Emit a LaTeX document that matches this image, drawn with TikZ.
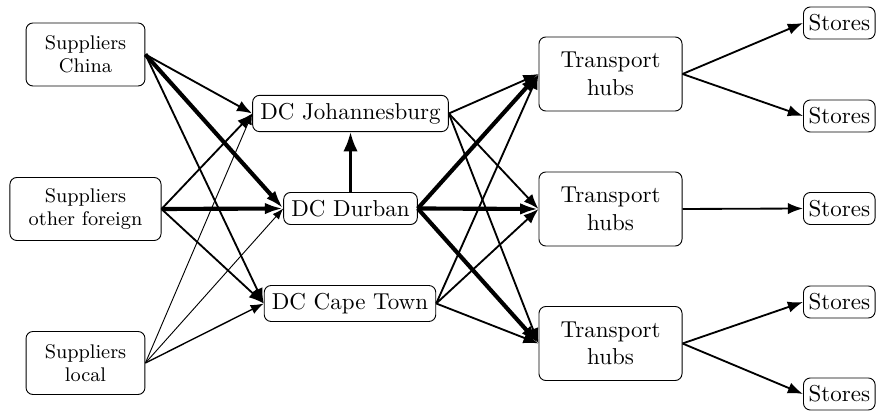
\documentclass[tikz,border=0pt]{standalone}
\usetikzlibrary{arrows.meta}
\begin{document}
\begin{tikzpicture}[x=0.4348pt,y=-0.4348pt,
  box/.style={draw, rounded corners=3pt, align=center, inner sep=0pt},
  supplier/.style={box, font=\fontsize{8.6}{10}\selectfont, minimum height=27.4pt},
  dc/.style={draw, rounded corners=3pt},
  hub/.style={box, minimum width=62.2pt, minimum height=32.2pt},
  store/.style={draw, rounded corners=3pt, inner xsep=2.2pt, anchor=west},
  flow/.style={thick, -{Latex}},
  thinflow/.style={semithick, -{Latex}},
  lightflow/.style={thin, -{Latex}},
  heavyflow/.style={line width=1.8pt, -{Latex[length=8pt,width=5pt]}}]
\useasboundingbox (0,0) rectangle (877,411);

% suppliers
\node[supplier, minimum width=51.7pt] (china) at (85.5,54.5) {Suppliers\\China};
\node[supplier, minimum width=65.7pt] (foreign) at (85.5,209) {Suppliers\\other foreign};
\node[supplier, minimum width=51.7pt] (local) at (85.5,363) {Suppliers\\local};

% distribution centres
\node[dc] (jhb) at (350.5,113.5) {DC Johannesburg};
\node[dc] (dbn) at (350.5,208.5) {DC Durban};
\node[dc] (cpt) at (350,303.5) {DC Cape Town};

% transport hubs
\node[hub] (h1) at (610.5,74) {Transport\\hubs};
\node[hub] (h2) at (610.5,209) {Transport\\hubs};
\node[hub] (h3) at (610.5,343.5) {Transport\\hubs};

% stores
\node[store] (s1) at (803,23) {Stores};
\node[store] (s2) at (803,116) {Stores};
\node[store] (s3) at (803,208.5) {Stores};
\node[store] (s4) at (803,302) {Stores};
\node[store] (s5) at (803,394) {Stores};

% suppliers to DCs
\draw[flow] (china.east) -- (jhb.west);
\draw[heavyflow] (china.east) -- (dbn.west);
\draw[flow] (china.east) -- (cpt.west);
\draw[flow] (foreign.east) -- (jhb.west);
\draw[heavyflow] (foreign.east) -- (dbn.west);
\draw[flow] (foreign.east) -- (cpt.west);
\draw[lightflow] (local.east) -- (jhb.west);
\draw[lightflow] (local.east) -- (dbn.west);
\draw[thinflow] (local.east) -- (cpt.west);

% Durban feeds Johannesburg
\draw[very thick, -{Latex}] (dbn.north) -- (jhb.south);

% DCs to transport hubs
\draw[flow] (jhb.east) -- (h1.west);
\draw[flow] (jhb.east) -- (h2.west);
\draw[flow] (jhb.east) -- (h3.west);
\draw[heavyflow] (dbn.east) -- (h1.west);
\draw[heavyflow] (dbn.east) -- (h2.west);
\draw[heavyflow] (dbn.east) -- (h3.west);
\draw[flow] (cpt.east) -- (h1.west);
\draw[flow] (cpt.east) -- (h2.west);
\draw[flow] (cpt.east) -- (h3.west);

% hubs to stores
\draw[flow] (h1.east) -- (s1.west);
\draw[flow] (h1.east) -- (s2.west);
\draw[flow] (h2.east) -- (s3.west);
\draw[flow] (h3.east) -- (s4.west);
\draw[flow] (h3.east) -- (s5.west);
\end{tikzpicture}
\end{document}
